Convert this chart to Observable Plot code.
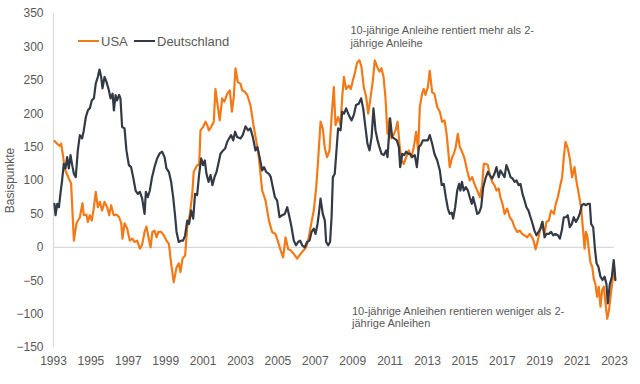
<!DOCTYPE html>
<html>
<head>
<meta charset="utf-8">
<script src="https://cdn.jsdelivr.net/npm/d3@7"></script>
<script src="https://cdn.jsdelivr.net/npm/@observablehq/plot@0.6"></script>
<style>
  html, body { margin: 0; padding: 0; background: #fff; }
  #wrap { position: relative; width: 640px; height: 384px; font-family: "Liberation Sans", Arial, sans-serif; color: #595959; }
  #wrap svg { position: absolute; left: 0; top: 0; }
  .legend-item { position: absolute; font-size: 13px; line-height: 15px; white-space: nowrap; }
  .sw { position: absolute; height: 2.5px; width: 21px; }
  .note { position: absolute; font-size: 11px; line-height: 12.7px; white-space: nowrap; color: #595959; }
</style>
</head>
<body>
<div id="wrap"></div>
<script>
// ---- data (decimal year, basis points) ----
const seriesNames = ["USA", "Deutschland"];
const seriesColors = ["#f27a18", "#333a45"];

const usaYear = [1993.05,1993.20,1993.34,1993.41,1993.52,1993.59,1993.82,1993.94,1994.09,1994.23,1994.41,1994.55,1994.62,1994.76,1994.84,1994.94,1995.05,1995.16,1995.26,1995.37,1995.48,1995.60,1995.73,1995.87,1995.98,1996.08,1996.22,1996.37,1996.51,1996.62,1996.69,1996.80,1996.94,1997.08,1997.22,1997.33,1997.47,1997.62,1997.74,1997.87,1997.97,1998.08,1998.19,1998.29,1998.40,1998.51,1998.61,1998.76,1998.90,1999.04,1999.17,1999.29,1999.43,1999.58,1999.70,1999.79,1999.90,2000.04,2000.15,2000.29,2000.42,2000.50,2000.68,2000.79,2000.86,2001.00,2001.13,2001.22,2001.31,2001.43,2001.57,2001.66,2001.79,2001.89,2002.02,2002.14,2002.29,2002.43,2002.54,2002.64,2002.73,2002.86,2003.00,2003.09,2003.23,2003.36,2003.53,2003.71,2003.84,2003.98,2004.16,2004.34,2004.52,2004.69,2004.87,2005.01,2005.14,2005.28,2005.41,2005.55,2005.67,2005.85,2006.03,2006.21,2006.39,2006.51,2006.65,2006.80,2006.92,2007.05,2007.15,2007.28,2007.40,2007.51,2007.63,2007.76,2007.87,2007.99,2008.08,2008.22,2008.35,2008.44,2008.53,2008.65,2008.79,2008.90,2009.01,2009.11,2009.24,2009.36,2009.47,2009.59,2009.72,2009.83,2009.95,2010.08,2010.18,2010.31,2010.43,2010.54,2010.65,2010.75,2010.86,2010.97,2011.07,2011.18,2011.29,2011.40,2011.50,2011.61,2011.73,2011.86,2012.00,2012.14,2012.27,2012.39,2012.50,2012.59,2012.71,2012.80,2012.89,2013.02,2013.12,2013.25,2013.37,2013.52,2013.66,2013.78,2013.91,2014.02,2014.09,2014.19,2014.32,2014.41,2014.51,2014.62,2014.73,2014.85,2014.98,2015.12,2015.26,2015.39,2015.51,2015.66,2015.80,2015.92,2016.01,2016.12,2016.23,2016.33,2016.46,2016.58,2016.69,2016.81,2016.90,2017.01,2017.12,2017.26,2017.40,2017.53,2017.65,2017.80,2017.94,2018.06,2018.19,2018.33,2018.47,2018.60,2018.69,2018.78,2018.90,2019.01,2019.13,2019.26,2019.36,2019.49,2019.61,2019.76,2019.86,2019.97,2020.08,2020.20,2020.29,2020.38,2020.50,2020.61,2020.73,2020.86,2020.97,2021.09,2021.22,2021.32,2021.40,2021.47,2021.54,2021.63,2021.72,2021.81,2021.89,2021.98,2022.07,2022.16,2022.25,2022.34,2022.43,2022.52,2022.61,2022.70,2022.79,2022.87,2022.96,2023.02];
const usaBp = [159,155,152,155,135,118,103,96,10,36,45,66,48,49,38,48,40,60,83,60,68,55,68,60,48,63,48,49,45,36,13,36,28,10,13,8,10,-2,4,23,31,15,0,23,25,15,23,23,18,10,5,-24,-52,-30,-24,-37,-17,-12,30,49,80,113,123,123,175,180,188,183,175,180,188,237,210,190,223,218,230,235,203,225,268,247,245,235,233,228,213,180,160,135,85,70,40,23,20,8,-4,-15,15,-3,-4,-10,-17,-10,-4,0,15,38,55,90,130,188,178,148,135,145,195,240,183,195,183,225,255,237,242,237,250,260,277,280,270,240,225,200,223,250,280,270,263,268,255,225,170,193,163,168,175,188,155,130,125,135,145,135,150,173,145,210,230,237,228,240,264,232,230,210,203,188,190,170,150,120,135,140,150,170,150,143,133,115,100,105,95,85,75,93,125,125,123,108,98,93,85,88,75,65,50,58,45,40,30,23,25,20,18,15,20,15,8,-3,10,25,38,20,38,40,55,50,65,75,90,105,135,158,148,133,105,120,98,80,58,25,-2,23,18,-4,-24,-29,-47,-55,-74,-59,-89,-64,-59,-84,-107,-95,-74,-55,-24,-49];

const deYear = [1993.05,1993.11,1993.20,1993.29,1993.37,1993.46,1993.55,1993.64,1993.73,1993.82,1993.91,1994.00,1994.09,1994.19,1994.30,1994.41,1994.53,1994.62,1994.73,1994.84,1994.94,1995.05,1995.16,1995.26,1995.37,1995.46,1995.55,1995.62,1995.73,1995.83,1995.96,1996.05,1996.16,1996.23,1996.32,1996.40,1996.51,1996.58,1996.67,1996.80,1996.90,1997.03,1997.15,1997.26,1997.39,1997.51,1997.62,1997.74,1997.87,1997.94,1998.04,1998.15,1998.27,1998.40,1998.54,1998.69,1998.81,1998.94,1999.04,1999.17,1999.29,1999.40,1999.51,1999.58,1999.70,1999.83,1999.93,2000.04,2000.15,2000.25,2000.36,2000.47,2000.57,2000.68,2000.79,2000.90,2001.00,2001.09,2001.18,2001.29,2001.40,2001.50,2001.61,2001.72,2001.84,2001.93,2002.07,2002.18,2002.29,2002.39,2002.50,2002.61,2002.71,2002.82,2003.00,2003.12,2003.27,2003.41,2003.53,2003.66,2003.80,2003.91,2004.02,2004.16,2004.26,2004.37,2004.52,2004.62,2004.73,2004.84,2004.96,2005.09,2005.23,2005.37,2005.50,2005.62,2005.73,2005.85,2005.97,2006.08,2006.19,2006.30,2006.44,2006.56,2006.69,2006.80,2006.92,2007.01,2007.12,2007.19,2007.28,2007.40,2007.51,2007.58,2007.69,2007.79,2007.87,2007.94,2008.04,2008.12,2008.22,2008.35,2008.44,2008.54,2008.65,2008.79,2008.94,2009.06,2009.18,2009.33,2009.45,2009.56,2009.68,2009.79,2009.90,2010.01,2010.11,2010.22,2010.33,2010.43,2010.54,2010.66,2010.79,2010.86,2010.93,2011.00,2011.11,2011.22,2011.36,2011.47,2011.54,2011.65,2011.75,2011.86,2011.97,2012.07,2012.18,2012.32,2012.43,2012.54,2012.64,2012.75,2012.89,2013.02,2013.12,2013.25,2013.37,2013.52,2013.66,2013.76,2013.87,2013.98,2014.09,2014.19,2014.30,2014.37,2014.48,2014.59,2014.69,2014.76,2014.84,2014.94,2015.05,2015.16,2015.26,2015.37,2015.44,2015.55,2015.66,2015.76,2015.87,2015.98,2016.10,2016.23,2016.33,2016.46,2016.58,2016.69,2016.81,2016.90,2017.01,2017.12,2017.22,2017.33,2017.44,2017.55,2017.65,2017.76,2017.87,2017.97,2018.08,2018.19,2018.29,2018.40,2018.51,2018.61,2018.72,2018.83,2018.94,2019.04,2019.15,2019.26,2019.36,2019.49,2019.61,2019.72,2019.84,2019.97,2020.08,2020.18,2020.29,2020.40,2020.50,2020.61,2020.72,2020.82,2020.93,2021.04,2021.14,2021.25,2021.36,2021.47,2021.57,2021.68,2021.75,2021.86,2021.96,2022.04,2022.14,2022.25,2022.36,2022.47,2022.57,2022.64,2022.75,2022.86,2022.96,2023.05];
const deBp = [65,48,65,60,80,100,125,118,135,118,138,123,110,105,145,168,163,175,195,205,208,220,223,245,255,266,255,238,255,248,235,223,230,205,228,220,228,223,180,178,145,123,120,105,85,80,83,73,50,83,75,85,105,120,133,141,143,135,118,113,98,75,45,23,8,10,10,18,40,35,55,43,80,78,110,133,123,130,110,98,108,93,105,113,128,140,145,148,158,163,168,160,173,165,163,168,181,175,178,165,145,150,135,115,120,113,110,105,90,75,70,45,48,50,60,45,30,10,3,8,10,3,0,8,10,23,28,20,35,50,73,50,40,8,3,8,45,105,110,140,178,175,203,200,208,198,190,198,213,215,223,208,180,155,145,165,208,175,160,150,140,138,145,135,163,193,165,163,160,150,120,140,138,143,140,140,135,138,120,150,153,160,160,160,168,155,140,130,115,93,95,75,58,50,52,43,60,85,95,85,98,85,90,85,75,65,75,63,50,52,60,90,103,113,108,103,110,120,105,115,110,105,123,115,105,103,98,100,93,95,80,70,60,55,45,36,25,18,23,28,38,15,20,20,23,18,20,18,13,25,45,45,48,30,35,45,38,43,50,63,65,63,65,65,35,30,-4,-24,-29,-44,-49,-44,-55,-84,-55,-44,-19,-49];

const xTicks = d3.range(1993, 2024, 2);
const yTicks = d3.range(-150, 351, 50);
const yLabel = "Basispunkte";
const noteTop = ["10-jährige Anleihe rentiert mehr als 2-", "jährige Anleihe"];
const noteBottom = ["10-jährige Anleihen rentieren weniger als 2-", "jährige Anleihen"];

const usa = usaYear.map((y, i) => ({year: y, bp: usaBp[i]}));
const de = deYear.map((y, i) => ({year: y, bp: deBp[i]}));

const grey = "#d9d9d9";
const chart = Plot.plot({
  width: 640,
  height: 384,
  marginLeft: 53,
  marginRight: 26,
  marginTop: 13,
  marginBottom: 37,
  style: {fontFamily: '"Liberation Sans", Arial, sans-serif', fontSize: "12px", color: "#595959", background: "transparent"},
  x: {domain: [1993, 2023]},
  y: {domain: [-150, 350]},
  marks: [
    Plot.ruleX([1993], {stroke: grey, strokeWidth: 1.2}),
    Plot.ruleY([0], {stroke: grey, strokeWidth: 1.2}),
    Plot.axisX({ticks: xTicks, tickFormat: d => String(d), tickSize: 0, tickPadding: 9, label: null, fontSize: 12}),
    Plot.axisY({ticks: yTicks, tickSize: 0, tickPadding: 10, label: yLabel, labelAnchor: "center", labelArrow: "none", labelOffset: 48, fontSize: 12}),
    Plot.line(usa, {x: "year", y: "bp", stroke: seriesColors[0], strokeWidth: 2.2, strokeLinejoin: "round"}),
    Plot.line(de, {x: "year", y: "bp", stroke: seriesColors[1], strokeWidth: 2.2, strokeLinejoin: "round"})
  ]
});

const wrap = document.getElementById("wrap");
wrap.appendChild(chart);

// legend (inside plot area)
const legendPos = [{sw: 78, tx: 101}, {sw: 134, tx: 157}];
seriesNames.forEach((name, i) => {
  const sw = document.createElement("div");
  sw.className = "sw";
  sw.style.left = legendPos[i].sw + "px";
  sw.style.top = "39.5px";
  sw.style.background = seriesColors[i];
  wrap.appendChild(sw);
  const t = document.createElement("div");
  t.className = "legend-item";
  t.style.left = legendPos[i].tx + "px";
  t.style.top = "33.5px";
  t.textContent = name;
  wrap.appendChild(t);
});

function addNote(lines, left, top) {
  const n = document.createElement("div");
  n.className = "note";
  n.style.left = left + "px";
  n.style.top = top + "px";
  n.innerHTML = lines.map(l => l.replace(/&/g, "&amp;")).join("<br>");
  wrap.appendChild(n);
}
addNote(noteTop, 350.5, 24);
addNote(noteBottom, 352, 304.5);
</script>
</body>
</html>
